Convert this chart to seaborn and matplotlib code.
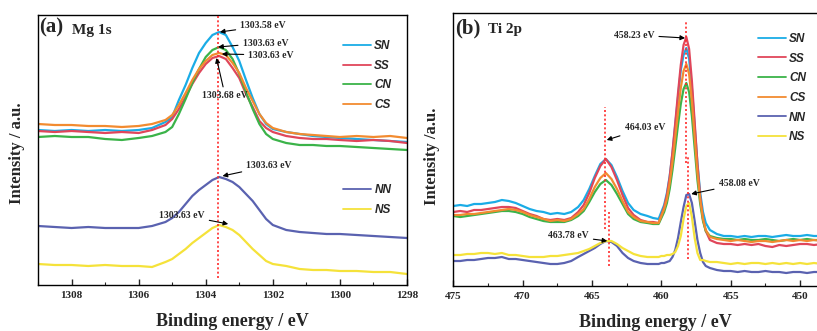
import numpy as np
import pandas as pd
import matplotlib
matplotlib.use("Agg")
import matplotlib.pyplot as plt
from matplotlib.lines import Line2D
from matplotlib.ticker import MultipleLocator
import seaborn as sns

# ---------------- data ----------------
# Mg 1s region (binding energy, eV)
energy_mg = [1309.0, 1308.5, 1308.0, 1307.5, 1307.0, 1306.5, 1306.0, 1305.6, 1305.2, 1305.0,
             1304.8, 1304.6, 1304.4, 1304.2, 1304.0, 1303.8, 1303.6, 1303.4, 1303.2, 1303.0,
             1302.8, 1302.6, 1302.4, 1302.2, 1302.0, 1301.6, 1301.2, 1300.8, 1300.4, 1300.0,
             1299.5, 1299.0, 1298.5, 1298.0]
mg_SN = [155, 154, 155, 154, 155, 154, 155, 157, 163, 168, 185, 200, 217, 232, 242, 250, 253, 250,
         238, 224, 205, 187, 171, 161, 156, 153, 151, 149, 148, 147, 146, 145, 144, 143]
mg_SS = [154, 153, 154, 153, 152, 153, 152, 155, 160, 166, 176, 188, 201, 212, 221, 227, 229, 226,
         217, 207, 191, 178, 164, 157, 153, 149, 147, 146, 146, 145, 144, 145, 144, 142]
mg_CN = [148, 149, 148, 148, 146, 145, 147, 149, 153, 158, 171, 186, 202, 216, 228, 235, 238, 235,
         226, 211, 193, 176, 161, 151, 146, 142, 140, 140, 139, 139, 138, 137, 136, 135]
mg_CS = [161, 160, 160, 159, 159, 158, 159, 161, 165, 170, 180, 192, 205, 216, 224, 230, 232, 230,
         222, 212, 197, 184, 171, 162, 157, 153, 151, 150, 149, 148, 149, 148, 149, 147]
mg_NN = [59, 58, 57, 58, 57, 57, 57, 59, 63, 67, 73, 81, 89, 95, 100, 105, 108, 106,
         103, 98, 91, 84, 75, 66, 60, 55, 53, 52, 51, 51, 50, 49, 48, 47]
mg_NS = [21, 20, 20, 19, 20, 19, 19, 18, 23, 26, 31, 36, 42, 47, 52, 57, 60, 58,
         55, 50, 43, 36, 30, 24, 21, 19, 16, 15, 15, 14, 14, 13, 13, 11]

# Ti 2p region (binding energy, eV)
energy_ti = [475.0, 474.5, 474.0, 473.5, 473.0, 472.5, 472.0, 471.5, 471.0, 470.5,
             470.0, 469.5, 469.0, 468.5, 468.0, 467.5, 467.0, 466.5, 466.0,
             465.6, 465.2, 464.8, 464.4, 464.0, 463.6, 463.2, 462.8, 462.4, 462.0,
             461.5, 461.0, 460.6, 460.2,
             460.0, 459.8, 459.6, 459.4, 459.2, 459.0, 458.8, 458.6, 458.4, 458.2,
             458.0, 457.8, 457.6, 457.4, 457.2, 457.0, 456.8,
             456.5, 456.0, 455.5, 455.0, 454.5, 454.0, 453.5, 453.0, 452.5, 452.0,
             451.5, 451.0, 450.5, 450.0, 449.5, 449.0, 448.4]
ti_SN = [80, 81, 80, 82, 82, 83, 84, 86, 85, 83, 80, 77, 75, 74, 72, 73, 72, 74, 79,
         86, 97, 110, 122, 127, 121, 109, 95, 83, 76,
         72, 70, 68, 67,
         74, 81, 93, 110, 133, 161, 189, 216, 231, 238, 227, 198, 160, 123, 93, 74, 63,
         56, 52, 50, 50, 49, 50, 49, 50, 50, 49, 50, 51, 50, 50, 51, 50, 50]
ti_SS = [74, 75, 74, 76, 76, 77, 78, 79, 79, 78, 75, 72, 70, 67, 66, 67, 66, 68, 74,
         81, 93, 108, 120, 127, 119, 106, 91, 78, 71,
         66, 64, 64, 63,
         71, 79, 91, 109, 134, 163, 193, 221, 241, 249, 237, 205, 164, 122, 89, 67, 55,
         46, 43, 42, 42, 41, 42, 41, 42, 40, 39, 41, 40, 41, 42, 42, 41, 42]
ti_CN = [70, 69, 70, 71, 72, 73, 74, 75, 75, 74, 72, 69, 67, 65, 64, 64, 64, 66, 70,
         75, 84, 94, 102, 106, 101, 92, 82, 72, 67,
         64, 63, 62, 62,
         68, 74, 83, 97, 116, 138, 161, 182, 197, 203, 194, 170, 138, 106, 82, 65, 55,
         50, 48, 47, 47, 46, 47, 46, 46, 47, 46, 45, 46, 47, 46, 47, 46, 46]
ti_CS = [71, 71, 72, 72, 73, 74, 75, 76, 77, 76, 74, 71, 69, 67, 65, 66, 65, 67, 72,
         77, 87, 99, 108, 113, 107, 97, 85, 74, 69,
         65, 64, 63, 63,
         70, 77, 87, 103, 124, 149, 174, 198, 215, 222, 212, 185, 149, 113, 86, 67, 56,
         49, 47, 46, 45, 46, 45, 44, 45, 45, 44, 45, 46, 45, 46, 45, 46, 45]
ti_NN = [25, 25, 26, 26, 27, 28, 28, 29, 27, 27, 26, 25, 24, 23, 22, 22, 23, 25, 29,
         32, 35, 38, 42, 45, 44, 40, 33, 28, 25,
         23, 22, 22, 22,
         23, 23, 24, 25, 29, 36, 48, 64, 79, 91, 92, 83, 65, 46, 33, 24, 20,
         18, 16, 15, 15, 14, 15, 14, 14, 15, 14, 14, 13, 14, 14, 13, 14, 14]
ti_NS = [31, 31, 32, 32, 33, 33, 32, 33, 31, 31, 30, 29, 29, 29, 30, 30, 31, 32, 33,
         35, 37, 40, 43, 45, 45, 42, 38, 35, 32,
         30, 29, 29, 29,
         30, 30, 31, 31, 32, 34, 40, 50, 67, 80, 83, 69, 48, 33, 26, 26, 25,
         24, 24, 23, 22, 23, 22, 23, 23, 22, 23, 22, 23, 22, 23, 22, 23, 22]

samples = ["SN", "SS", "CN", "CS", "NN", "NS"]
colors = {"SN": "#1aace6", "SS": "#e0465a", "CN": "#3bb349", "CS": "#f28b30",
          "NN": "#5a62b0", "NS": "#f5e23a"}

mg_series = {"SN": mg_SN, "SS": mg_SS, "CN": mg_CN, "CS": mg_CS, "NN": mg_NN, "NS": mg_NS}
ti_series = {"SN": ti_SN, "SS": ti_SS, "CN": ti_CN, "CS": ti_CS, "NN": ti_NN, "NS": ti_NS}

# peak positions marked by dotted guide lines: (energy, y_from, y_to)
mg_guides = [(1303.63, 7, 270)]
ti_guides = [(458.23, 123, 264), (464.03, 57, 179), (463.78, 20, 74), (458.08, 27, 130)]

# peak labels: (text, text_x, text_y, peak_x, peak_y, horizontal alignment)
mg_labels = [("1303.58 eV", 1302.97, 259, 1303.58, 253, "left"),
             ("1303.63 eV", 1302.90, 242, 1303.63, 238, "left"),
             ("1303.63 eV", 1302.73, 230, 1303.52, 231, "left"),
             ("1303.68 eV", 1303.42, 189, 1303.68, 227, "center"),
             ("1303.63 eV", 1302.79, 119, 1303.50, 109, "left"),
             ("1303.63 eV", 1304.71, 70, 1303.33, 61, "center")]
ti_labels = [("458.23 eV", 461.97, 251, 458.29, 248, "center"),
             ("464.03 eV", 461.20, 158, 463.94, 146, "center"),
             ("458.08 eV", 454.40, 102, 457.85, 92, "center"),
             ("463.78 eV", 466.70, 50, 463.90, 45, "center")]

# ---------------- style ----------------
sns.set_style("white")
plt.rcParams["font.family"] = ["Liberation Serif", "DejaVu Serif"]
plt.rcParams["font.weight"] = "bold"
plt.rcParams["axes.labelweight"] = "bold"

legend_font = dict(family="Liberation Sans", style="italic", weight="bold", size=8.5)


def to_long(energy, series):
    frames = [pd.DataFrame({"energy": energy, "intensity": vals, "sample": name})
              for name, vals in series.items()]
    return pd.concat(frames, ignore_index=True)


def draw_panel(ax, energy, series, order):
    df = to_long(energy, series)
    sns.lineplot(data=df, x="energy", y="intensity", hue="sample", hue_order=order,
                 palette=colors, sort=False, estimator=None, legend=False,
                 linewidth=1.6, ax=ax)


def style_axes(ax):
    for sp in ax.spines.values():
        sp.set_color("black")
        sp.set_linewidth(1.0)
    ax.set_yticks([])
    ax.tick_params(axis="x", which="major", direction="in", length=4, width=1,
                   labelsize=8, pad=4, top=False, bottom=True)
    ax.tick_params(axis="x", which="minor", direction="in", length=2.5, width=0.8,
                   top=False, bottom=True)
    for lab in ax.get_xticklabels():
        lab.set_fontweight("bold")


def add_guides(ax, guides):
    for x, y0, y1 in guides:
        ax.vlines(x, y0, y1, colors="#ff2a2a", linestyles=(0, (1.2, 1.4)), linewidth=1.2,
                  zorder=5)


def add_labels(ax, labels):
    for text, tx, ty, px, py, ha in labels:
        ax.annotate(text, xy=(px, py), xytext=(tx, ty), ha=ha, va="center",
                    fontsize=7, fontweight="bold",
                    arrowprops=dict(arrowstyle="-|>", color="black", lw=0.8,
                                    mutation_scale=7, shrinkA=1, shrinkB=0),
                    zorder=6)


def add_legend(ax, names, anchor):
    handles = [Line2D([], [], color=colors[n], lw=1.3) for n in names]
    leg = ax.legend(handles, names, loc="upper left", bbox_to_anchor=anchor,
                    frameon=False, prop=legend_font, handlelength=2.35,
                    handletextpad=0.3, labelspacing=0.65, borderpad=0,
                    borderaxespad=0)
    return leg


fig = plt.figure(figsize=(8.17, 3.31), dpi=100)
ax_mg = fig.add_axes([38 / 817, 46 / 331, 369 / 817, 270 / 331])
ax_ti = fig.add_axes([453.3 / 817, 45 / 331, 368.7 / 817, 273 / 331])

# ---- Mg 1s ----
draw_panel(ax_mg, energy_mg, mg_series, samples)
ax_mg.set_xlim(1309, 1298)
ax_mg.set_ylim(0, 270)
ax_mg.xaxis.set_major_locator(MultipleLocator(2))
ax_mg.xaxis.set_minor_locator(MultipleLocator(1))
style_axes(ax_mg)
add_guides(ax_mg, mg_guides)
add_labels(ax_mg, mg_labels)
leg1 = add_legend(ax_mg, ["SN", "SS", "CN", "CS"], (0.8266, 0.907))
ax_mg.add_artist(leg1)
add_legend(ax_mg, ["NN", "NS"], (0.8266, 0.374))
ax_mg.set_xlabel("Binding energy / eV", fontsize=13, fontweight="bold")
ax_mg.xaxis.set_label_coords(0.527, -0.105)
ax_mg.set_ylabel("Intensity / a.u.", fontsize=12, fontweight="bold")
ax_mg.yaxis.set_label_coords(-0.035, 0.49)
ax_mg.text(0.004, 0.952, "(a)", transform=ax_mg.transAxes, fontsize=15,
           fontweight="bold", va="center", ha="left")
ax_mg.text(0.091, 0.944, "Mg 1s", transform=ax_mg.transAxes, fontsize=11,
           fontweight="bold", va="center", ha="left")

# ---- Ti 2p ----
draw_panel(ax_ti, energy_ti, ti_series, samples)
ax_ti.set_xlim(475, 448.42)
ax_ti.set_ylim(0, 273)
ax_ti.xaxis.set_major_locator(MultipleLocator(5))
ax_ti.xaxis.set_minor_locator(MultipleLocator(2.5))
style_axes(ax_ti)
add_guides(ax_ti, ti_guides)
add_labels(ax_ti, ti_labels)
add_legend(ax_ti, samples, (0.826, 0.927))
ax_ti.set_xlabel("Binding energy / eV", fontsize=13, fontweight="bold")
ax_ti.xaxis.set_label_coords(0.549, -0.101)
ax_ti.set_ylabel("Intensity /a.u.", fontsize=12, fontweight="bold")
ax_ti.yaxis.set_label_coords(-0.036, 0.476)
ax_ti.text(0.004, 0.945, "(b)", transform=ax_ti.transAxes, fontsize=15,
           fontweight="bold", va="center", ha="left")
ax_ti.text(0.095, 0.94, "Ti 2p", transform=ax_ti.transAxes, fontsize=11,
           fontweight="bold", va="center", ha="left")

fig.savefig("out.png", dpi=100)
